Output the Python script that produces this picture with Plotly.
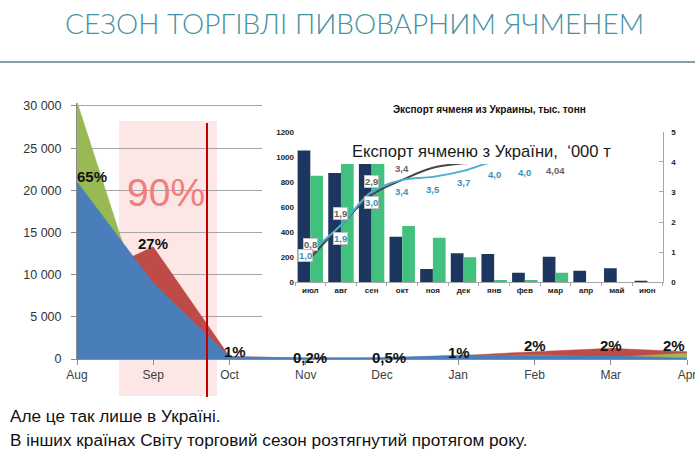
import plotly.graph_objects as go

# ---------------- data ----------------
months = ["Aug", "Sep", "Oct", "Nov", "Dec", "Jan", "Feb", "Mar", "Apr"]
blue_vals = [21000, 9000, 280, 120, 160, 440, 400, 380, 100]
red_vals = [9100, 13300, 300, 100, 100, 400, 870, 1260, 870]
green_vals = [30500, 2500, 200, 150, 120, 300, 480, 200, 670]
pct_labels = ["65%", "27%", "1%", "0,2%", "0,5%", "1%", "2%", "2%", "2%"]
y_ticks = [0, 5000, 10000, 15000, 20000, 25000, 30000]
y_tick_text = ["0", "5 000", "10 000", "15 000", "20 000", "25 000", "30 000"]

inset_months = ["июл", "авг", "сен", "окт", "ноя", "дек", "янв", "фев", "мар", "апр", "май", "июн"]
export_navy = [1050, 870, 1000, 363, 106, 231, 225, 76, 204, 92, 111, 8]
export_green = [850, 1000, 1000, 448, 355, 199, 18, 18, 76, 0, 0, 0]
share_dark = [0.8, 1.9, 2.9, 3.4, 3.8, 3.95, 4.0, 4.02, 4.04]
share_cyan = [1.0, 1.9, 3.0, 3.4, 3.5, 3.7, 4.0, 4.0]
dark_label_idx = [0, 1, 2, 3, 8]
dark_label_txt = ["0,8", "1,9", "2,9", "3,4", "4,04"]
cyan_label_txt = ["1,0", "1,9", "3,0", "3,4", "3,5", "3,7", "4,0", "4,0"]
left_ticks = [0, 200, 400, 600, 800, 1000, 1200]
right_ticks = [0, 1, 2, 3, 4, 5]

# ---------------- helpers ----------------
W, H = 695, 450
def px(x):
    return x / W
def py(y):
    return 1 - y / H

FONT = "Liberation Sans"
BLUE, RED, GREEN = "#4a7ebb", "#be4b48", "#98b954"

fig = go.Figure()

# main overlapping areas (red behind, green, blue in front)
for vals, col in [(red_vals, RED), (green_vals, GREEN), (blue_vals, BLUE)]:
    fig.add_trace(go.Scatter(
        x=list(range(len(months))), y=vals, mode="lines",
        line=dict(width=0.5, color=col), fill="tozeroy", fillcolor=col,
        xaxis="x", yaxis="y", showlegend=False, hoverinfo="skip"))

# inset bars
fig.add_trace(go.Bar(x=inset_months, y=export_navy, marker=dict(color="#1c365f", line=dict(width=0)),
                     xaxis="x2", yaxis="y2", showlegend=False))
fig.add_trace(go.Bar(x=inset_months, y=export_green, marker=dict(color="#41c07e", line=dict(width=0)),
                     xaxis="x2", yaxis="y2", showlegend=False))
# inset lines
fig.add_trace(go.Scatter(x=inset_months[:len(share_dark)], y=share_dark, mode="lines",
                         line=dict(color="#4a4448", width=2, shape="spline"),
                         xaxis="x2", yaxis="y3", showlegend=False))
fig.add_trace(go.Scatter(x=inset_months[:len(share_cyan)], y=share_cyan, mode="lines",
                         line=dict(color="#4aaed0", width=2, shape="spline"),
                         xaxis="x2", yaxis="y3", showlegend=False))

annotations = []
# percent labels on main chart
pct_shift_y = [5, 3, 5, 0, 0, 3, 6, 3, 6]
pct_shift_x = [-2, 0, 5, 4, 7, 1, 0, 0, -13]
for i, t in enumerate(pct_labels):
    anchor = blue_vals[0] if i == 0 else max(blue_vals[i], red_vals[i], green_vals[i])
    annotations.append(dict(
        x=i, y=anchor, xref="x", yref="y", text=t, showarrow=False,
        xanchor="left" if i == 0 else "center", yanchor="middle",
        xshift=pct_shift_x[i], yshift=pct_shift_y[i],
        font=dict(family=FONT, size=15, color="#111111", weight="bold")))

def paper_text(x, y, text, font, xanchor="center"):
    annotations.append(dict(x=px(x), y=py(y), xref="paper", yref="paper", text=text,
                            showarrow=False, xanchor=xanchor, yanchor="middle", font=font))

# 90%
paper_text(166, 192, "90%", dict(family=FONT, size=39, color="#f37c7c"))

# inset line labels
dark_shift = [14, 12, 13, 11, -10]
for k, (idx, t) in enumerate(zip(dark_label_idx, dark_label_txt)):
    boxed = k < 3
    annotations.append(dict(
        x=inset_months[idx], y=share_dark[idx], xref="x2", yref="y3", text=t, showarrow=False,
        xanchor="center", yanchor="middle",
        yshift=dark_shift[k], font=dict(family=FONT, size=9.5, color="#6b5f5a", weight="bold"),
        bgcolor="white" if boxed else None, bordercolor="#bfbfbf" if boxed else None,
        borderwidth=1 if boxed else 0, borderpad=0))
cyan_shift = [-3, -13, -11, -12, -13, -12, -13, -11]
cyan_xshift = [-5, 0, 0, 0, 0, 0, 0, 0]
for k, t in enumerate(cyan_label_txt):
    boxed = k < 3
    annotations.append(dict(
        x=inset_months[k], y=share_cyan[k], xref="x2", yref="y3", text=t, showarrow=False,
        xanchor="center", yanchor="middle",
        yshift=cyan_shift[k], xshift=cyan_xshift[k],
        font=dict(family=FONT, size=9.5, color="#3d8fb3", weight="bold"),
        bgcolor="white" if boxed else None, bordercolor="#bfbfbf" if boxed else None,
        borderwidth=1 if boxed else 0, borderpad=0))

# inset titles
paper_text(489, 109, "Экспорт ячменя из Украины, тыс. тонн",
           dict(family=FONT, size=10, color="#111111", weight="bold"))
paper_text(482, 152, "Експорт ячменю з України,  ‘000 т",
           dict(family=FONT, size=16.6, color="#1a1a1a"))

# slide title
paper_text(354, 23, "СЕЗОН ТОРГІВЛІ ПИВОВАРНИМ ЯЧМЕНЕМ",
           dict(family="Lato", size=28, color="#4592a2", weight=300))
# bottom text
paper_text(8, 416, "Але це так лише в Україні.",
           dict(family=FONT, size=17.2, color="#111111"), xanchor="left")
paper_text(8, 440, "В інших країнах Світу торговий сезон розтягнутий протягом року.",
           dict(family=FONT, size=17.2, color="#111111"), xanchor="left")

x_per_px = 8 / (687 - 77)
y_per_px = 30400 / (359 - 102.6)
shapes = [
    dict(type="rect", xref="paper", yref="paper", x0=px(119), x1=px(217), y0=py(396), y1=py(121),
         fillcolor="#fde6e6", line=dict(width=0), layer="below"),
    dict(type="line", xref="paper", yref="paper", x0=px(207), x1=px(207), y0=py(397), y1=py(123),
         line=dict(color="#c00000", width=2), layer="above"),
    dict(type="rect", xref="x", yref="y", x0=(262 - 77) * x_per_px, x1=8.3,
         y0=(359 - 332) * y_per_px, y1=31000, fillcolor="white", line=dict(width=0), layer="between"),
    dict(type="rect", xref="paper", yref="paper", x0=px(311), x1=px(620), y0=py(164), y1=py(135),
         fillcolor="white", line=dict(width=0), layer="above"),
    dict(type="line", xref="paper", yref="paper", x0=0, x1=1, y0=py(62), y1=py(62),
         line=dict(color="#86a0aa", width=2)),
]

fig.update_layout(
    width=W, height=H, autosize=False,
    margin=dict(l=0, r=0, t=0, b=0, autoexpand=False),
    paper_bgcolor="white", plot_bgcolor="rgba(0,0,0,0)",
    font=dict(family=FONT, color="#333333"),
    showlegend=False,
    barmode="group", bargap=0.17, bargroupgap=0,
    xaxis=dict(domain=[px(77), px(687)], range=[0, 8], tickvals=list(range(len(months))),
               ticktext=months, showgrid=False, zeroline=False, showline=True, linecolor="#8c8c8c",
               ticks="outside", ticklen=5, tickcolor="#8c8c8c", automargin=False,
               ticklabeloverflow="allow",
               tickfont=dict(family=FONT, size=12, color="#404040"), anchor="y"),
    yaxis=dict(domain=[py(359), py(102.6)], range=[0, 30400], tickvals=y_ticks, ticktext=y_tick_text,
               showgrid=True, gridcolor="#a6a6a6", gridwidth=1, zeroline=False, showline=True,
               linecolor="#8c8c8c", ticks="outside", ticklen=5, tickcolor="#8c8c8c", automargin=False,
               ticklabelstandoff=7, tickfont=dict(family=FONT, size=12.5, color="#333333"), anchor="x"),
    xaxis2=dict(domain=[px(295), px(662.7)], anchor="y2", showgrid=False, zeroline=False,
                showline=True, linecolor="#a6a6a6", ticks="outside", tickson="boundaries",
                ticklen=3, tickcolor="#a6a6a6", automargin=False,
                tickfont=dict(family=FONT, size=8, color="#222222", weight="bold")),
    yaxis2=dict(domain=[py(282.3), py(131.7)], range=[0, 1200], anchor="x2", tickvals=left_ticks,
                showgrid=False, zeroline=False, showline=False, ticks="", automargin=False,
                tickfont=dict(family=FONT, size=8, color="#222222", weight="bold")),
    yaxis3=dict(overlaying="y2", side="right", anchor="x2", range=[0, 5], tickvals=right_ticks,
                showgrid=False, zeroline=False, showline=True, linecolor="#a6a6a6", automargin=False,
                ticks="inside", ticklen=4, tickcolor="#a6a6a6", ticklabelstandoff=6,
                tickfont=dict(family=FONT, size=8, color="#222222", weight="bold")),
    annotations=annotations,
    shapes=shapes,
)

fig.write_html("out.html")
